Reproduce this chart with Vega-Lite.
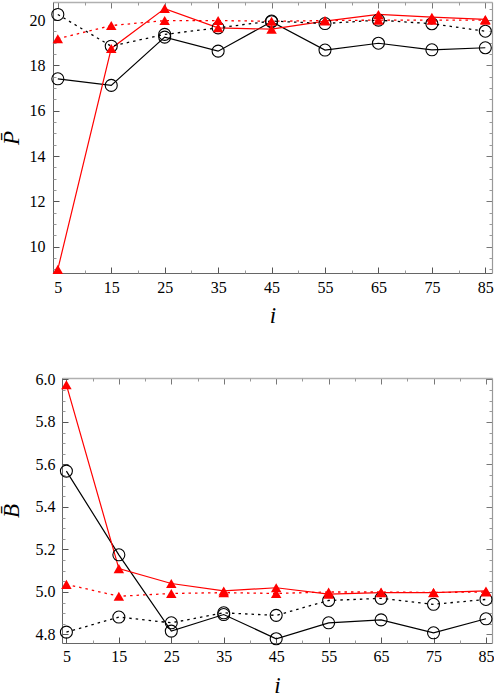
{
  "$schema": "https://vega.github.io/schema/vega-lite/v6.json",
  "padding": {"left": 0, "top": 1, "right": 0, "bottom": 0},
  "config": {
    "font": "Liberation Serif",
    "view": {"stroke": null},
    "axis": {"labelFont": "Liberation Serif", "labelFontSize": 16, "labelColor": "black", "domainColor": "#555555", "tickColor": "#555555", "grid": false, "titleFont": "Liberation Serif", "titleFontStyle": "italic", "titleFontWeight": "normal", "titleFontSize": 23, "titleColor": "black"}
  },
  "datasets": {
    "P": [
      {"i": 5, "s": "bs", "v": 17.41}, {"i": 15, "s": "bs", "v": 17.12}, {"i": 25, "s": "bs", "v": 19.25}, {"i": 35, "s": "bs", "v": 18.63}, {"i": 45, "s": "bs", "v": 19.93}, {"i": 55, "s": "bs", "v": 18.68}, {"i": 65, "s": "bs", "v": 18.98}, {"i": 75, "s": "bs", "v": 18.69}, {"i": 85, "s": "bs", "v": 18.78},
      {"i": 5, "s": "bd", "v": 20.25}, {"i": 15, "s": "bd", "v": 18.85}, {"i": 25, "s": "bd", "v": 19.37}, {"i": 35, "s": "bd", "v": 19.66}, {"i": 45, "s": "bd", "v": 19.96}, {"i": 55, "s": "bd", "v": 19.85}, {"i": 65, "s": "bd", "v": 20.0}, {"i": 75, "s": "bd", "v": 19.84}, {"i": 85, "s": "bd", "v": 19.51},
      {"i": 5, "s": "rs", "v": 9.0}, {"i": 15, "s": "rs", "v": 18.75}, {"i": 25, "s": "rs", "v": 20.51}, {"i": 35, "s": "rs", "v": 19.66}, {"i": 45, "s": "rs", "v": 19.6}, {"i": 55, "s": "rs", "v": 19.96}, {"i": 65, "s": "rs", "v": 20.25}, {"i": 75, "s": "rs", "v": 20.13}, {"i": 85, "s": "rs", "v": 20.03},
      {"i": 5, "s": "rd", "v": 19.18}, {"i": 15, "s": "rd", "v": 19.76}, {"i": 25, "s": "rd", "v": 19.98}, {"i": 35, "s": "rd", "v": 19.98}, {"i": 45, "s": "rd", "v": 19.95}, {"i": 55, "s": "rd", "v": 19.98}, {"i": 65, "s": "rd", "v": 20.0}, {"i": 75, "s": "rd", "v": 20.0}, {"i": 85, "s": "rd", "v": 20.0}
    ],
    "B": [
      {"i": 5, "s": "bs", "v": 5.569}, {"i": 15, "s": "bs", "v": 5.175}, {"i": 25, "s": "bs", "v": 4.816}, {"i": 35, "s": "bs", "v": 4.894}, {"i": 45, "s": "bs", "v": 4.78}, {"i": 55, "s": "bs", "v": 4.855}, {"i": 65, "s": "bs", "v": 4.869}, {"i": 75, "s": "bs", "v": 4.808}, {"i": 85, "s": "bs", "v": 4.874},
      {"i": 5, "s": "bd", "v": 4.811}, {"i": 15, "s": "bd", "v": 4.882}, {"i": 25, "s": "bd", "v": 4.855}, {"i": 35, "s": "bd", "v": 4.902}, {"i": 45, "s": "bd", "v": 4.89}, {"i": 55, "s": "bd", "v": 4.96}, {"i": 65, "s": "bd", "v": 4.97}, {"i": 75, "s": "bd", "v": 4.942}, {"i": 85, "s": "bd", "v": 4.965},
      {"i": 5, "s": "rs", "v": 5.975}, {"i": 15, "s": "rs", "v": 5.11}, {"i": 25, "s": "rs", "v": 5.04}, {"i": 35, "s": "rs", "v": 5.005}, {"i": 45, "s": "rs", "v": 5.02}, {"i": 55, "s": "rs", "v": 4.99}, {"i": 65, "s": "rs", "v": 4.997}, {"i": 75, "s": "rs", "v": 4.997}, {"i": 85, "s": "rs", "v": 5.005},
      {"i": 5, "s": "rd", "v": 5.036}, {"i": 15, "s": "rd", "v": 4.98}, {"i": 25, "s": "rd", "v": 4.993}, {"i": 35, "s": "rd", "v": 4.997}, {"i": 45, "s": "rd", "v": 4.993}, {"i": 55, "s": "rd", "v": 5.0}, {"i": 65, "s": "rd", "v": 5.0}, {"i": 75, "s": "rd", "v": 4.998}, {"i": 85, "s": "rd", "v": 5.0}
    ]
  },
  "vconcat": [
    {
      "width": 439, "height": 271,
      "data": {"name": "P"},
      "resolve": {"axis": {"x": "independent", "y": "independent"}},
      "layer": [
        {
          "transform": [{"filter": "datum.s == 'bs' || datum.s == 'rs'"}],
          "mark": {"type": "line", "strokeWidth": 1.2},
          "encoding": {
            "x": {"field": "i", "type": "quantitative", "scale": {"domain": [4.1, 86.25], "nice": false, "zero": false},
                  "axis": {"orient": "bottom", "values": [5, 15, 25, 35, 45, 55, 65, 75, 85], "tickSize": -6, "labelPadding": 12, "title": "i", "titlePadding": 9, "labelFlush": false, "domainColor": "#666666"}},
            "y": {"field": "v", "type": "quantitative", "scale": {"domain": [8.84, 20.8], "nice": false, "zero": false},
                  "axis": {"orient": "left", "values": [10, 12, 14, 16, 18, 20], "tickSize": -6, "labelPadding": 14, "title": "P̄", "titlePadding": 6, "labelFlush": false, "domainColor": "#666666"}},
            "color": {"field": "s", "type": "nominal", "scale": {"domain": ["bs", "bd", "rs", "rd"], "range": ["black", "black", "red", "red"]}, "legend": null}
          }
        },
        {
          "transform": [{"filter": "datum.s == 'bd' || datum.s == 'rd'"}],
          "mark": {"type": "line", "strokeWidth": 1.3, "strokeDash": [2.5, 4]},
          "encoding": {
            "x": {"field": "i", "type": "quantitative", "axis": {"orient": "bottom", "values": [10, 20, 30, 40, 50, 60, 70, 80], "tickSize": -3, "labels": false, "domain": false, "title": null, "tickColor": "#999999"}},
            "y": {"field": "v", "type": "quantitative", "axis": {"orient": "left", "values": [9, 9.5, 10.5, 11, 11.5, 12.5, 13, 13.5, 14.5, 15, 15.5, 16.5, 17, 17.5, 18.5, 19, 19.5, 20.5], "tickSize": -3, "labels": false, "domain": false, "title": null, "tickColor": "#999999"}},
            "color": {"field": "s", "type": "nominal", "scale": {"domain": ["bs", "bd", "rs", "rd"], "range": ["black", "black", "red", "red"]}, "legend": null}
          }
        },
        {
          "transform": [{"filter": "datum.s == 'bs' || datum.s == 'bd'"}],
          "mark": {"type": "point", "shape": "circle", "size": 144, "filled": false, "stroke": "black", "strokeWidth": 1.1, "opacity": 1},
          "encoding": {
            "x": {"field": "i", "type": "quantitative", "axis": {"orient": "top", "values": [5, 15, 25, 35, 45, 55, 65, 75, 85], "tickSize": -6, "labels": false, "domain": true, "domainColor": "#b0b0b0", "domainWidth": 1.6, "title": null, "tickColor": "#777777"}},
            "y": {"field": "v", "type": "quantitative", "axis": {"orient": "right", "values": [10, 12, 14, 16, 18, 20], "tickSize": -6, "labels": false, "domain": true, "domainColor": "#999999", "domainWidth": 1.2, "title": null, "tickColor": "#777777"}}
          }
        },
        {
          "transform": [{"filter": "datum.s == 'rs' || datum.s == 'rd'"}],
          "mark": {"type": "point", "shape": "triangle-up", "size": 110, "filled": true, "color": "red", "opacity": 1},
          "encoding": {
            "x": {"field": "i", "type": "quantitative", "axis": {"orient": "top", "values": [10, 20, 30, 40, 50, 60, 70, 80], "tickSize": -3, "labels": false, "domain": false, "title": null, "tickColor": "#999999"}},
            "y": {"field": "v", "type": "quantitative", "axis": {"orient": "right", "values": [9, 9.5, 10.5, 11, 11.5, 12.5, 13, 13.5, 14.5, 15, 15.5, 16.5, 17, 17.5, 18.5, 19, 19.5, 20.5], "tickSize": -3, "labels": false, "domain": false, "title": null, "tickColor": "#999999"}}
          }
        }
      ]
    },
    {
      "width": 439, "height": 265,
      "data": {"name": "B"},
      "resolve": {"axis": {"x": "independent", "y": "independent"}},
      "layer": [
        {
          "transform": [{"filter": "datum.s == 'bs' || datum.s == 'rs'"}],
          "mark": {"type": "line", "strokeWidth": 1.2},
          "encoding": {
            "x": {"field": "i", "type": "quantitative", "scale": {"domain": [4.16, 86.15], "nice": false, "zero": false, "range": [9, 439]},
                  "axis": {"orient": "bottom", "values": [5, 15, 25, 35, 45, 55, 65, 75, 85], "tickSize": -6, "labelPadding": 11, "title": "i", "titlePadding": 10, "labelFlush": false, "domainColor": "#666666"}},
            "y": {"field": "v", "type": "quantitative", "scale": {"domain": [4.76, 6.007], "nice": false, "zero": false},
                  "axis": {"orient": "left", "offset": -9, "values": [4.8, 5.0, 5.2, 5.4, 5.6, 5.8, 6.0], "format": ".1f", "tickSize": -6, "labelPadding": 13, "title": "B̄", "titlePadding": 12, "labelFlush": false, "domainColor": "#666666"}},
            "color": {"field": "s", "type": "nominal", "scale": {"domain": ["bs", "bd", "rs", "rd"], "range": ["black", "black", "red", "red"]}, "legend": null}
          }
        },
        {
          "transform": [{"filter": "datum.s == 'bd' || datum.s == 'rd'"}],
          "mark": {"type": "line", "strokeWidth": 1.3, "strokeDash": [2.5, 4]},
          "encoding": {
            "x": {"field": "i", "type": "quantitative", "axis": {"orient": "bottom", "values": [10, 20, 30, 40, 50, 60, 70, 80], "tickSize": -3, "labels": false, "domain": false, "title": null, "tickColor": "#999999"}},
            "y": {"field": "v", "type": "quantitative", "axis": {"orient": "left", "offset": -9, "values": [4.85, 4.9, 4.95, 5.05, 5.1, 5.15, 5.25, 5.3, 5.35, 5.45, 5.5, 5.55, 5.65, 5.7, 5.75, 5.85, 5.9, 5.95], "tickSize": -3, "labels": false, "domain": false, "title": null, "tickColor": "#999999"}},
            "color": {"field": "s", "type": "nominal", "scale": {"domain": ["bs", "bd", "rs", "rd"], "range": ["black", "black", "red", "red"]}, "legend": null}
          }
        },
        {
          "transform": [{"filter": "datum.s == 'bs' || datum.s == 'bd'"}],
          "mark": {"type": "point", "shape": "circle", "size": 144, "filled": false, "stroke": "black", "strokeWidth": 1.1, "opacity": 1},
          "encoding": {
            "x": {"field": "i", "type": "quantitative", "axis": {"orient": "top", "values": [5, 15, 25, 35, 45, 55, 65, 75, 85], "tickSize": -6, "labels": false, "domain": true, "domainColor": "#b0b0b0", "domainWidth": 1.6, "title": null, "tickColor": "#777777"}},
            "y": {"field": "v", "type": "quantitative", "axis": {"orient": "right", "values": [4.8, 5.0, 5.2, 5.4, 5.6, 5.8, 6.0], "tickSize": -6, "labels": false, "domain": true, "domainColor": "#999999", "domainWidth": 1.2, "title": null, "tickColor": "#777777"}}
          }
        },
        {
          "transform": [{"filter": "datum.s == 'rs' || datum.s == 'rd'"}],
          "mark": {"type": "point", "shape": "triangle-up", "size": 110, "filled": true, "color": "red", "opacity": 1},
          "encoding": {
            "x": {"field": "i", "type": "quantitative", "axis": {"orient": "top", "values": [10, 20, 30, 40, 50, 60, 70, 80], "tickSize": -3, "labels": false, "domain": false, "title": null, "tickColor": "#999999"}},
            "y": {"field": "v", "type": "quantitative", "axis": {"orient": "right", "values": [4.85, 4.9, 4.95, 5.05, 5.1, 5.15, 5.25, 5.3, 5.35, 5.45, 5.5, 5.55, 5.65, 5.7, 5.75, 5.85, 5.9, 5.95], "tickSize": -3, "labels": false, "domain": false, "title": null, "tickColor": "#999999"}}
          }
        }
      ]
    }
  ],
  "spacing": 44
}
